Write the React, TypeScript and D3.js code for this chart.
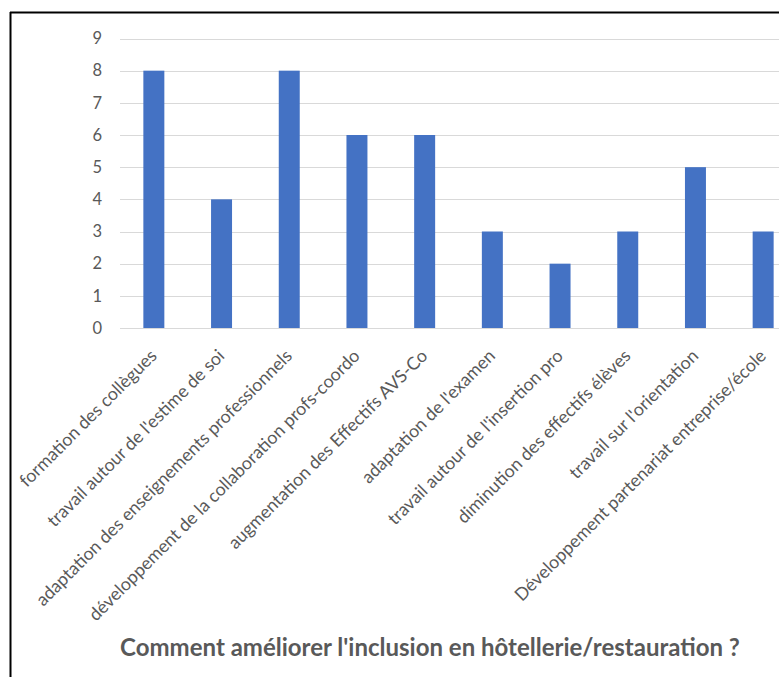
import React from "react";
import * as d3 from "d3";

const categories: string[] = [
  "formation des collègues",
  "travail autour de l'estime de soi",
  "adaptation des enseignements professionnels",
  "développement de la collaboration profs-coordo",
  "augmentation des Effectifs AVS-Co",
  "adaptation de l'examen",
  "travail autour de l'insertion pro",
  "diminution des effectifs élèves",
  "travail sur l'orientation",
  "Développement partenariat entreprise/école",
];
const values: number[] = [8, 4, 8, 6, 6, 3, 2, 3, 5, 3];
const yTicks: number[] = [0, 1, 2, 3, 4, 5, 6, 7, 8, 9];
const title = "Comment améliorer l'inclusion en hôtellerie/restauration ?";

const W = 779;
const H = 677;
const FONT = "Lato, 'Open Sans', sans-serif";
const TEXT = "#595959";

export default function App() {
  const x = d3
    .scaleBand<string>()
    .domain(categories)
    .range([120, 797])
    .paddingInner(0.69)
    .paddingOuter(0.345);
  const y = d3.scaleLinear().domain([0, 9]).range([328, 38.5]);

  return (
    <div style={{ position: "absolute", left: 0, top: 0 }}>
      <svg width={W} height={H} style={{ display: "block", background: "#fff" }}>
        <rect x={0} y={0} width={W} height={H} fill="#fff" />
        {/* frame */}
        <line x1={10.5} y1={12} x2={10.5} y2={H} stroke="#000" strokeWidth={2} />
        <line x1={10} y1={12.5} x2={W} y2={12.5} stroke="#000" strokeWidth={2} />
        {/* gridlines */}
        {yTicks.map((t) => (
          <line
            key={t}
            x1={120}
            x2={W}
            y1={Math.round(y(t)) + 0.5}
            y2={Math.round(y(t)) + 0.5}
            stroke="#d9d9d9"
            strokeWidth={1}
          />
        ))}
        {/* y tick labels */}
        {yTicks.map((t) => (
          <text
            key={t}
            x={102}
            y={y(t)}
            dy="0.35em"
            textAnchor="end"
            fontFamily={FONT}
            fontSize={16.5}
            fill={TEXT}
          >
            {t}
          </text>
        ))}
        {/* bars */}
        {categories.map((c, i) => (
          <rect
            key={c}
            x={x(c)!}
            y={y(values[i])}
            width={x.bandwidth()}
            height={y(0) - y(values[i])}
            fill="#4472c4"
          />
        ))}
        {/* category labels */}
        {categories.map((c) => {
          const cx = x(c)! + x.bandwidth() / 2 + 4;
          const cy = 357;
          return (
            <text
              key={c}
              x={cx}
              y={cy}
              textAnchor="end"
              transform={`rotate(-45 ${cx} ${cy})`}
              fontFamily={FONT}
              fontSize={17.8}
              fill={TEXT}
            >
              {c}
            </text>
          );
        })}
        {/* title */}
        <text
          x={430}
          y={656}
          textAnchor="middle"
          fontFamily={FONT}
          fontWeight="bold"
          fontSize={24}
          fill={TEXT}
        >
          {title}
        </text>
      </svg>
    </div>
  );
}
